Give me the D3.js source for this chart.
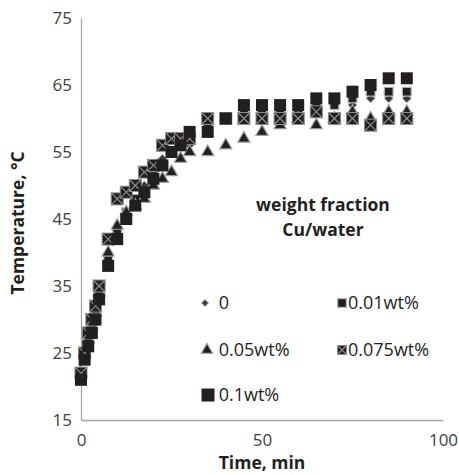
<!DOCTYPE html>
<html>
<head>
<meta charset="utf-8">
<script src="https://cdn.jsdelivr.net/npm/d3@7"></script>
<style>
  body { margin: 0; background: #fff; }
  text { font-family: "Open Sans", "DejaVu Sans", sans-serif; }
</style>
</head>
<body>
<div id="chart"></div>
<script>
// time readings (min)
let times = [0, 1, 2, 3, 4, 5, 7.5, 10, 12.5, 15, 17.5, 20, 22.5, 25, 27.5, 30,
             35, 40, 45, 50, 55, 60, 65, 70, 75, 80, 85, 90];

// temperature (°C) for each weight fraction
let temp0    = [21, 24, 27, 29, 31, 34, 39, 43, 46, 48, 50, 52, 54, 55, 56, 56, 58, 60, 61, 61, 61, 61, 62, 62, 62, 63, 63, 63];
let temp001  = [21, 24, 27, 29, 31, 34, 39, 43, 46, 48, 49, 51, 53, 55, 56, 57, 59, 60, 61, 61, 61, 61, 62, 62, 63, 64, 64, 64];
let temp005  = [22, 25, 27, 29, 31, 34, 40, 44, 46, 47, 48, 50, 51, 52, 54, 55, 55, 56, 57, 58, 59, 60, 59, 60, 61, 60, 61, 61];
let temp0075 = [22, 25, 28, 30, 32, 35, 42, 48, 49, 50, 52, 53, 56, 57, 57, 57, 60, 60, 60, 60, 60, 60, 61, 60, 60, 59, 60, 60];
let temp01   = [21, 24, 26, 28, 30, 33, 38, 42, 45, 47, 49, 51, 53, 55, 56, 58, 58, 60, 62, 62, 62, 62, 63, 63, 64, 65, 66, 66];

let seriesNames = [" 0", "0.01wt%", " 0.05wt%", "0.075wt%", " 0.1wt%"];
let xTicks = [0, 50, 100];
let yTicks = [15, 25, 35, 45, 55, 65, 75];

let width = 459, height = 475;
let margin = {top: 18, right: 16, bottom: 55, left: 81};

let svg = d3.select("#chart")
    .append("svg")
    .attr("width", width)
    .attr("height", height);

let x = d3.scaleLinear().domain([0, 100]).range([margin.left, width - margin.right]);
let y = d3.scaleLinear().domain([15, 75]).range([height - margin.bottom, margin.top]);

let axisColor = "#a6a6a6";
let textColor = "#404040";

// axes
let xAxis = svg.append("g")
    .attr("transform", "translate(0," + y(15) + ")")
    .call(d3.axisBottom(x).tickValues(xTicks).tickSize(0).tickPadding(14));
let yAxis = svg.append("g")
    .attr("transform", "translate(" + x(0) + ",0)")
    .call(d3.axisLeft(y).tickValues(yTicks).tickSize(0).tickPadding(9));

[xAxis, yAxis].forEach(a => {
    a.select(".domain").attr("stroke", axisColor).attr("stroke-width", 1.3);
    a.selectAll("text").attr("font-size", 17).attr("fill", textColor)
        .attr("font-family", "Open Sans, sans-serif");
});

svg.append("text")
    .attr("x", x(50))
    .attr("y", 469)
    .attr("text-anchor", "middle")
    .attr("font-size", 17.5)
    .attr("font-weight", "bold")
    .attr("fill", "#231f20")
    .text("Time, min");

svg.append("text")
    .attr("transform", "translate(24," + (y(45) + 4) + ") rotate(-90)")
    .attr("text-anchor", "middle")
    .attr("font-size", 17.5)
    .attr("font-weight", "bold")
    .attr("fill", "#231f20")
    .text("Temperature, \u00B0C");

// marker drawers
let dark = "#231f20";
function drawMarker(g, type, s) {
    if (type === 0) {
        g.append("path")
            .attr("d", d3.symbol(d3.symbolDiamond2, s * s * 0.5)())
            .attr("fill", "#3a3a3a").attr("stroke", "#b0b0b0").attr("stroke-width", 1);
    } else if (type === 1) {
        g.append("rect")
            .attr("x", -s * 0.4).attr("y", -s * 0.4).attr("width", s * 0.8).attr("height", s * 0.8)
            .attr("fill", dark).attr("stroke", "#b5b5b5").attr("stroke-width", 1.2);
    } else if (type === 2) {
        g.append("path")
            .attr("d", d3.symbol(d3.symbolTriangle, s * s * 0.45)())
            .attr("fill", dark).attr("stroke", "#a0a0a0").attr("stroke-width", 1.2);
    } else if (type === 3) {
        let h = s / 2;
        g.append("rect")
            .attr("x", -h).attr("y", -h).attr("width", s).attr("height", s)
            .attr("fill", dark).attr("stroke", "#8c8c8c").attr("stroke-width", 1);
        g.append("path")
            .attr("d", "M" + (-h) + "," + (-h) + "L" + h + "," + h + "M" + h + "," + (-h) + "L" + (-h) + "," + h)
            .attr("stroke", "#8c8c8c").attr("stroke-width", 1.2);
    } else {
        let h = s / 2;
        g.append("rect")
            .attr("x", -h).attr("y", -h).attr("width", s).attr("height", s)
            .attr("fill", dark);
    }
}

let allSeries = [temp0, temp001, temp005, temp0075, temp01];
let sizes = [10, 11, 12, 12, 12];

allSeries.forEach((vals, i) => {
    let data = times.map((t, j) => ({t: t, v: vals[j]}));
    svg.append("g")
        .selectAll("g")
        .data(data)
        .enter()
        .append("g")
        .attr("transform", d => "translate(" + x(d.t) + "," + y(d.v) + ")")
        .each(function () { drawMarker(d3.select(this), i, sizes[i]); });
});

// annotation
svg.append("text")
    .attr("x", 323).attr("y", 211)
    .attr("text-anchor", "middle")
    .attr("font-size", 17.5).attr("font-weight", "bold").attr("fill", "#231f20")
    .text("weight fraction");
svg.append("text")
    .attr("x", 323).attr("y", 236)
    .attr("text-anchor", "middle")
    .attr("font-size", 17.5).attr("font-weight", "bold").attr("fill", "#231f20")
    .text("Cu/water");

// legend
let legendPos = [[205, 303], [342, 303], [207, 350], [342, 350], [208, 395]];
let legendSizes = [8, 11, 11, 9, 13];
seriesNames.forEach((name, i) => {
    let g = svg.append("g")
        .attr("transform", "translate(" + legendPos[i][0] + "," + legendPos[i][1] + ")");
    drawMarker(g, i, legendSizes[i]);
    g.append("text")
        .attr("x", i % 2 === 0 ? 219 - legendPos[i][0] - 5 : 6)
        .attr("y", 6)
        .attr("font-size", 18).attr("fill", "#231f20")
        .attr("xml:space", "preserve")
        .text(name);
});
</script>
</body>
</html>
